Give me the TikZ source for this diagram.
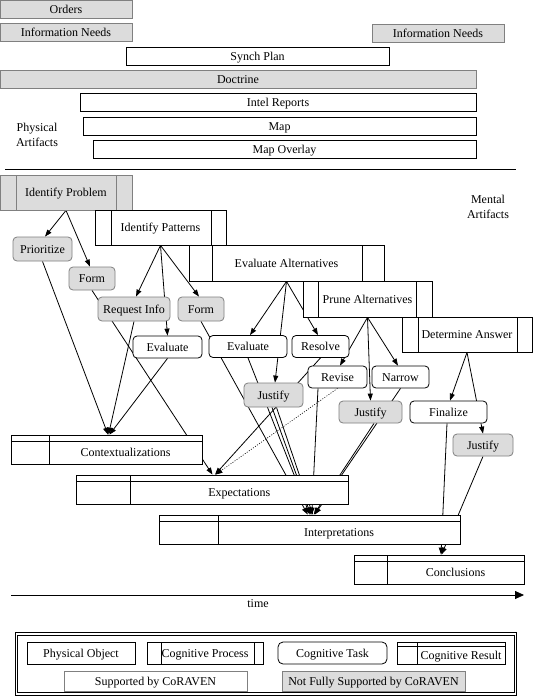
\documentclass[tikz,border=0pt]{standalone}
\usepackage{fontspec}
\setmainfont{Liberation Serif}
\usetikzlibrary{arrows.meta,calc,backgrounds}
\definecolor{boxgray}{RGB}{220,220,220}
\definecolor{edgegray}{RGB}{128,128,128}
\newcommand{\restext}[2]{\hspace*{#1}\raisebox{-2.5pt}{#2}}
\tikzset{
  wh/.style={draw=black, fill=white, line width=0.8pt, text height=8pt, text depth=0pt},
  gr/.style={draw=edgegray, fill=boxgray, line width=0.8pt, text height=8pt, text depth=0pt},
  bx/.style args={#1x#2}{minimum width=#1pt, minimum height=#2pt},
  task/.style={rounded corners=4pt},
  proc/.style args={#1/#2/#3}{path picture={
    \draw[#3,line width=0.8pt] ([xshift=#1pt]path picture bounding box.north west) -- ([xshift=#1pt]path picture bounding box.south west);
    \draw[#3,line width=0.8pt] ([xshift=-#2pt]path picture bounding box.north east) -- ([xshift=-#2pt]path picture bounding box.south east);}},
  res/.style args={#1/#2}{path picture={
    \draw[line width=0.8pt] ([yshift=-#2pt]path picture bounding box.north west) -- ([yshift=-#2pt]path picture bounding box.north east);
    \draw[line width=0.8pt] ([xshift=#1pt]path picture bounding box.north west) -- ([xshift=#1pt]path picture bounding box.south west);}},
  conn/.style={line width=0.8pt, -{Triangle[length=7pt,width=5pt]}},
  plainline/.style={line width=0.8pt},
  dotline/.style={line width=0.6pt, dash pattern=on 1pt off 1.5pt, -{Triangle[length=7pt,width=5pt]}}
}
\begin{document}
\begin{tikzpicture}[x=1pt,y=-1pt,every node/.style={font=\fontsize{12}{15}\selectfont, inner sep=0pt}]
\useasboundingbox (0,0) rectangle (533,699);
% physical artifacts
\node[gr, bx=132x18] (orders) at (66,9) {Orders};
\node[gr, bx=132x18] (infoL) at (66,32.5) {Information Needs};
\node[gr, bx=132x18] (infoR) at (438,33) {Information Needs};
\node[wh, bx=263x18] (synch) at (257.5,56) {Synch Plan};
\node[gr, bx=476x18] (doctrine) at (238,79) {Doctrine};
\node[wh, bx=396x18] (intel) at (278,102.5) {Intel Reports};
\node[wh, bx=393x18] (map) at (279.5,126) {Map};
\node[wh, bx=383x18] (overlay) at (284.5,149) {Map Overlay};
\node[align=center] (phys) at (37,135) {Physical\\Artifacts};
\coordinate (sepL) at (5,169);
\coordinate (sepR) at (516,169);
\draw[plainline] (sepL) -- (sepR);
% mental artifacts
\node[align=center] (mental) at (488,206.5) {Mental\\Artifacts};
\node[gr, proc=16/16/edgegray, bx=132x35] (idprob) at (66,192.5) {Identify Problem};
\node[wh, proc=16/15/black, bx=131x35] (idpat) at (160.5,227.5) {Identify Patterns};
\node[wh, proc=23/22/black, bx=195x36] (evalalt) at (286.5,263) {Evaluate Alternatives};
\node[wh, proc=15/16/black, bx=129x36] (prune) at (367.5,299) {Prune Alternatives};
\node[wh, proc=16/15/black, bx=130x35] (detans) at (467,334.5) {Determine Answer};
% tasks
\node[gr, task, bx=59x24] (prio) at (42.5,249) {Prioritize};
\node[gr, task, bx=46x23] (form1) at (92,278.5) {Form};
\node[gr, task, bx=72x24] (reqinfo) at (134,309) {Request Info};
\node[gr, task, bx=46x24] (form2) at (201,309) {Form};
\node[wh, task, bx=69x22] (eval1) at (167.5,347) {Evaluate};
\node[wh, task, bx=78x22] (eval2) at (248,346.5) {Evaluate};
\node[wh, task, bx=57x22] (resolve) at (320.5,346.5) {Resolve};
\node[gr, task, bx=59x24] (just1) at (273.5,395) {Justify};
\node[wh, task, bx=59x22] (revise) at (337.5,377) {Revise};
\node[wh, task, bx=57x22] (narrow) at (400.5,377) {Narrow};
\node[gr, task, bx=63x22] (just2) at (370.5,412) {Justify};
\node[wh, task, bx=77x22] (finalize) at (448.5,412) {Finalize};
\node[gr, task, bx=60x22] (just3) at (483,445) {Justify};
% results
\node[wh, res=38/6, bx=191x29] (ctx) at (106.5,449.5) {\restext{38pt}{Contextualizations}};
\node[wh, res=53.5/6, bx=272x29] (expect) at (212.5,489.5) {\restext{53.5pt}{Expectations}};
\node[wh, res=58.5/6, bx=300.5x29] (interp) at (309.75,529.5) {\restext{58.5pt}{Interpretations}};
\node[wh, res=33/6, bx=170x29] (concl) at (439,569.5) {\restext{33pt}{Conclusions}};
% time
\coordinate (t0) at (11,595);
\coordinate (t1) at (524,595);
\draw[line width=0.8pt, -{Triangle[length=9pt,width=8pt]}] (t0) -- (t1);
\node (time) at (258,603.5) {time};
% legend
\node[draw, double, double distance=1.6pt, line width=0.8pt, bx=499x60] (legend) at (266,664) {};
\node[wh, bx=108x22] (lgphys) at (81,653) {Physical Object};
\node[wh, proc=14/9/black, bx=116x22] (lgproc) at (205,653) {Cognitive Process};
\node[wh, rounded corners=5pt, bx=109x22] (lgtask) at (332.5,653) {Cognitive Task};
\node[wh, res=20/4, bx=108x22] (lgres) at (451,653) {\restext{20pt}{Cognitive Result}};
\node[wh, draw=edgegray, bx=183x20] (lgsup) at (155.5,681) {Supported by CoRAVEN};
\node[gr, bx=183x20] (lgnot) at (373.5,681) {Not Fully Supported by CoRAVEN};
% connectors
\begin{scope}[on background layer]
\fill[white] (0,0) rectangle (533,699);
\draw[conn] (idprob.south) -- ($(prio.north)+(2.5,0)$);
\draw[conn] (idprob.south) -- ($(form1.north)+(-2,0)$);
\draw[conn] (idpat.south) -- ($(reqinfo.north)+(2,0)$);
\draw[conn] (idpat.south) -- (eval1.north);
\draw[conn] (idpat.south) -- ($(form2.north)+(-2,0)$);
\draw[conn] (evalalt.south) -- ($(eval2.north)+(2,0)$);
\draw[conn] (evalalt.south) -- ($(just1.north)+(1.5,0)$);
\draw[conn] (evalalt.south) -- ($(resolve.north)+(-2.5,0)$);
\draw[conn] (prune.south) -- ($(revise.north)+(2.5,0)$);
\draw[conn] (prune.south) -- (just2.north);
\draw[conn] (prune.south) -- ($(narrow.north)+(-2.5,0)$);
\draw[conn] (detans.south) -- ($(finalize.north)+(1.5,0)$);
\draw[conn] (detans.south) -- (just3.north);
\draw[conn] (prio.south) -- ($(ctx.north)+(1.5,0)$);
\draw[conn] (reqinfo.south) -- ($(ctx.north)+(2,0)$);
\draw[conn] (eval1.south) -- ($(ctx.north)+(3,0)$);
\draw[conn] (form1.south) -- (expect.north);
\draw[conn] (resolve.south) -- ($(expect.north)+(2.5,0)$);
\draw[dotline] (revise.south) -- ($(expect.north)+(3,0)$);
\draw[conn] (form2.south) -- ($(interp.north)+(-2,0)$);
\draw[conn] (eval2.south) -- (interp.north);
\draw[conn] ($(just1.south)+(-1.5,0)$) -- ($(interp.north)+(1,0)$);
\draw[conn] ($(just1.south)+(3,0)$) -- ($(interp.north)+(3,0)$);
\draw[conn] ($(revise.south)+(-19.5,0)$) -- ($(interp.north)+(2,0)$);
\draw[conn] ($(just2.south)+(3.5,0)$) -- ($(interp.north)+(4,0)$);
\draw[conn] (narrow.south) -- ($(interp.north)+(5,0)$);
\draw[conn] ($(finalize.south)+(-1.5,0)$) -- ($(concl.north)+(2,0)$);
\draw[conn] (just3.south) -- ($(concl.north)+(2.5,0)$);
\end{scope}
\end{tikzpicture}
\end{document}
